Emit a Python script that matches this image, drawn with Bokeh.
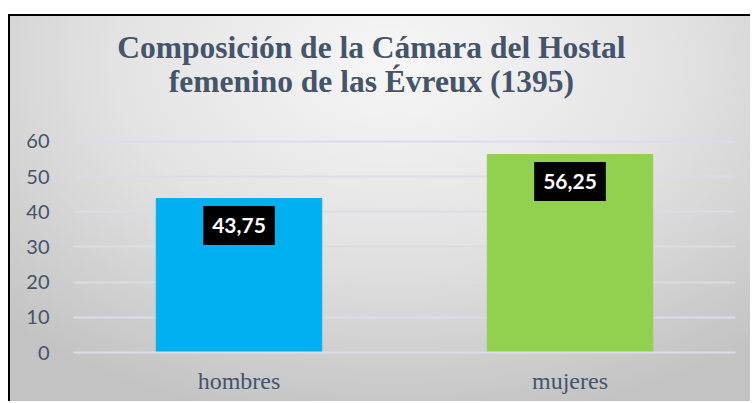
from bokeh.plotting import figure
from bokeh.models import Label, FixedTicker
from bokeh.embed import file_html
from bokeh.resources import INLINE

categories = ["hombres", "mujeres"]
values = [43.75, 56.25]
labels = ["43,75", "56,25"]
colors = ["#00b0f0", "#92d050"]
y_ticks = [0, 10, 20, 30, 40, 50, 60]
title_lines = ["Composición de la Cámara del Hostal", "femenino de las Évreux (1395)"]

SERIF = "Liberation Serif"

# y range extends above 60 so the two title lines sit inside the drawing area
p = figure(x_range=categories, y_range=(0, 95.5), width=742, height=387,
           output_backend="svg", toolbar_location=None,
           min_border_left=63, min_border_right=17, min_border_top=0,
           min_border_bottom=51)
p.styles = {
    "margin-left": "8px",
    "margin-top": "14px",
    "border-left": "2px solid black",
    "border-top": "2px solid black",
    "background": "radial-gradient(ellipse 75% 95% at 52% 12%, #f7f7f7 0%, #e3e3e3 50%, #c3c3c3 100%)",
}
p.background_fill_alpha = 0
p.border_fill_alpha = 0
p.outline_line_color = None

p.vbar(x=categories, top=values, width=0.5, color=colors)

for ty, line in zip([86.8, 77.0], title_lines):
    p.add_layout(Label(x=0.9, y=ty, text=line, text_align="center",
                       text_baseline="alphabetic", text_font=SERIF,
                       text_font_style="bold", text_font_size="31.5px",
                       text_color="#44546a"))

for i, (v, lab) in enumerate(zip(values, labels)):
    p.add_layout(Label(x=i + 0.5, y=v, text=lab, y_offset=-27, text_align="center",
                       text_baseline="middle", text_font="Lato", text_font_style="bold",
                       text_font_size="21px", text_color="white",
                       background_fill_color="black", padding=(9, 12)))

p.yaxis.ticker = FixedTicker(ticks=y_ticks)
p.yaxis.axis_line_color = None
p.yaxis.major_tick_line_color = None
p.yaxis.minor_tick_line_color = None
p.yaxis.major_label_text_font = "Lato"
p.yaxis.major_label_text_font_size = "20px"
p.yaxis.major_label_text_color = "#44546a"
p.yaxis.major_label_standoff = 18

p.xaxis.axis_line_color = "#d9dee6"
p.xaxis.axis_line_width = 2
p.xaxis.major_tick_line_color = None
p.xaxis.major_label_text_font = SERIF
p.xaxis.major_label_text_font_size = "24px"
p.xaxis.major_label_text_color = "#44546a"
p.xaxis.major_label_standoff = 9

p.xgrid.grid_line_color = None
p.ygrid.grid_line_color = "#d9dee6"
p.ygrid.grid_line_width = 2

open("out.html", "w").write(file_html(p, INLINE))
